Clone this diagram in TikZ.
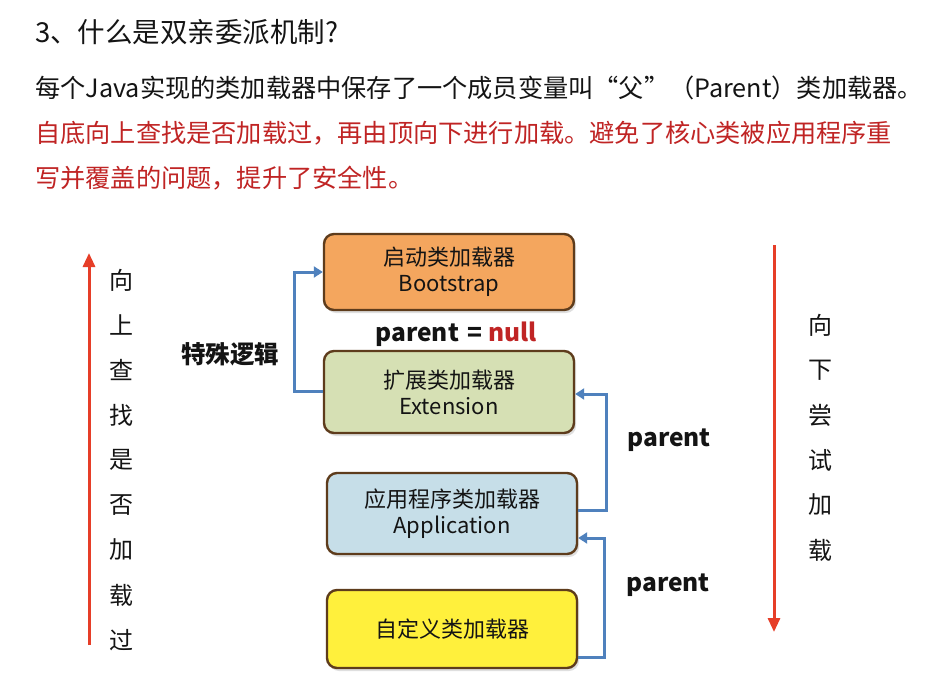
\documentclass[tikz,border=0pt]{standalone}
\usepackage{fontspec}
\setmainfont{Noto Sans CJK SC}
\usetikzlibrary{arrows.meta,shadows}
\definecolor{orangefill}{RGB}{244,166,94}
\definecolor{greenfill}{RGB}{214,224,180}
\definecolor{bluefill}{RGB}{198,222,232}
\definecolor{yellowfill}{RGB}{255,240,60}
\definecolor{boxborder}{RGB}{94,60,28}
\definecolor{linkblue}{RGB}{79,129,189}
\definecolor{arrowred}{RGB}{230,62,40}
\definecolor{textred}{RGB}{192,36,36}
\definecolor{textdark}{RGB}{20,20,20}
\tikzset{
  loader/.style={draw=boxborder, line width=2.4pt, rounded corners=10pt,
    minimum width=250pt, minimum height=78pt, align=center,
    font=\fontsize{22}{26}\selectfont, text=textdark,
    drop shadow={shadow xshift=2pt, shadow yshift=-3pt, opacity=0.25}},
  link/.style={draw=linkblue, line width=3pt, -{Triangle[length=9pt,width=11pt]}},
  bigarrow/.style={draw=arrowred, line width=3pt, -{Triangle[length=14pt,width=12pt]}},
  vchar/.style={font=\fontsize{24}{24}\selectfont, text=textdark, inner sep=0pt},
  bodytext/.style={anchor=west, inner sep=0pt, font=\fontsize{25.2}{30}\selectfont},
  boldlabel/.style={font=\fontsize{24.5}{28}\selectfont\bfseries, text=textdark, inner sep=0pt}
}
\begin{document}
\begin{tikzpicture}[x=1pt,y=-1pt]
\useasboundingbox[fill=white] (0,0) rectangle (948,674);
% header texts
\node[bodytext, font=\fontsize{27.5}{32}\selectfont, text=textdark] (title) at (35,32) {3、什么是双亲委派机制?};
\node[bodytext, text=textdark] (line1) at (35,88) {每个Java实现的类加载器中保存了一个成员变量叫“父”（Parent）类加载器。};
\node[bodytext, text=textred] (line2) at (35,133) {自底向上查找是否加载过，再由顶向下进行加载。避免了核心类被应用程序重};
\node[bodytext, text=textred] (line3) at (35,178) {写并覆盖的问题，提升了安全性。};
% loader boxes
\node[loader, fill=orangefill, minimum height=76pt] (boot) at (449,272) {启动类加载器\\Bootstrap};
\node[loader, fill=greenfill, minimum height=82pt] (ext) at (449,392) {扩展类加载器\\Extension};
\node[loader, fill=bluefill, minimum height=81pt] (app) at (452,513.5) {应用程序类加载器\\Application};
\node[loader, fill=yellowfill, minimum height=78pt] (cust) at (452,629) {自定义类加载器};
% labels
\node[boldlabel] (pnull) at (456,334) {parent\hspace{0.12em} = \textcolor{textred}{null}};
\node[boldlabel] (special) at (230,354) {特殊逻辑};
\node[boldlabel] (p1) at (669,440) {parent};
\node[boldlabel] (p2) at (668,585) {parent};
% connectors
\draw[link] (ext.west |- 0,391) -- ++(-28,0) |- (boot.west);
\draw[link] (app.east |- 0,510) -- (606,510) |- (ext.east |- 0,394);
\draw[link] (cust.east |- 0,657) -- (604,657) |- (app.east |- 0,538);
% red arrows
\coordinate (lbot) at (89,645);
\coordinate (ltop) at (89,253);
\draw[bigarrow] (lbot) -- (ltop);
\coordinate (rtop) at (774,245);
\coordinate (rbot) at (774,632);
\draw[bigarrow] (rtop) -- (rbot);
% vertical texts
\foreach \ch [count=\i from 0] in {向,上,查,找,是,否,加,载,过} {
  \node[vchar] (l\i) at (121,280+45*\i) {\ch};
}
\foreach \ch [count=\i from 0] in {向,下,尝,试,加,载} {
  \node[vchar] (r\i) at (820,325+45*\i) {\ch};
}
\end{tikzpicture}
\end{document}
